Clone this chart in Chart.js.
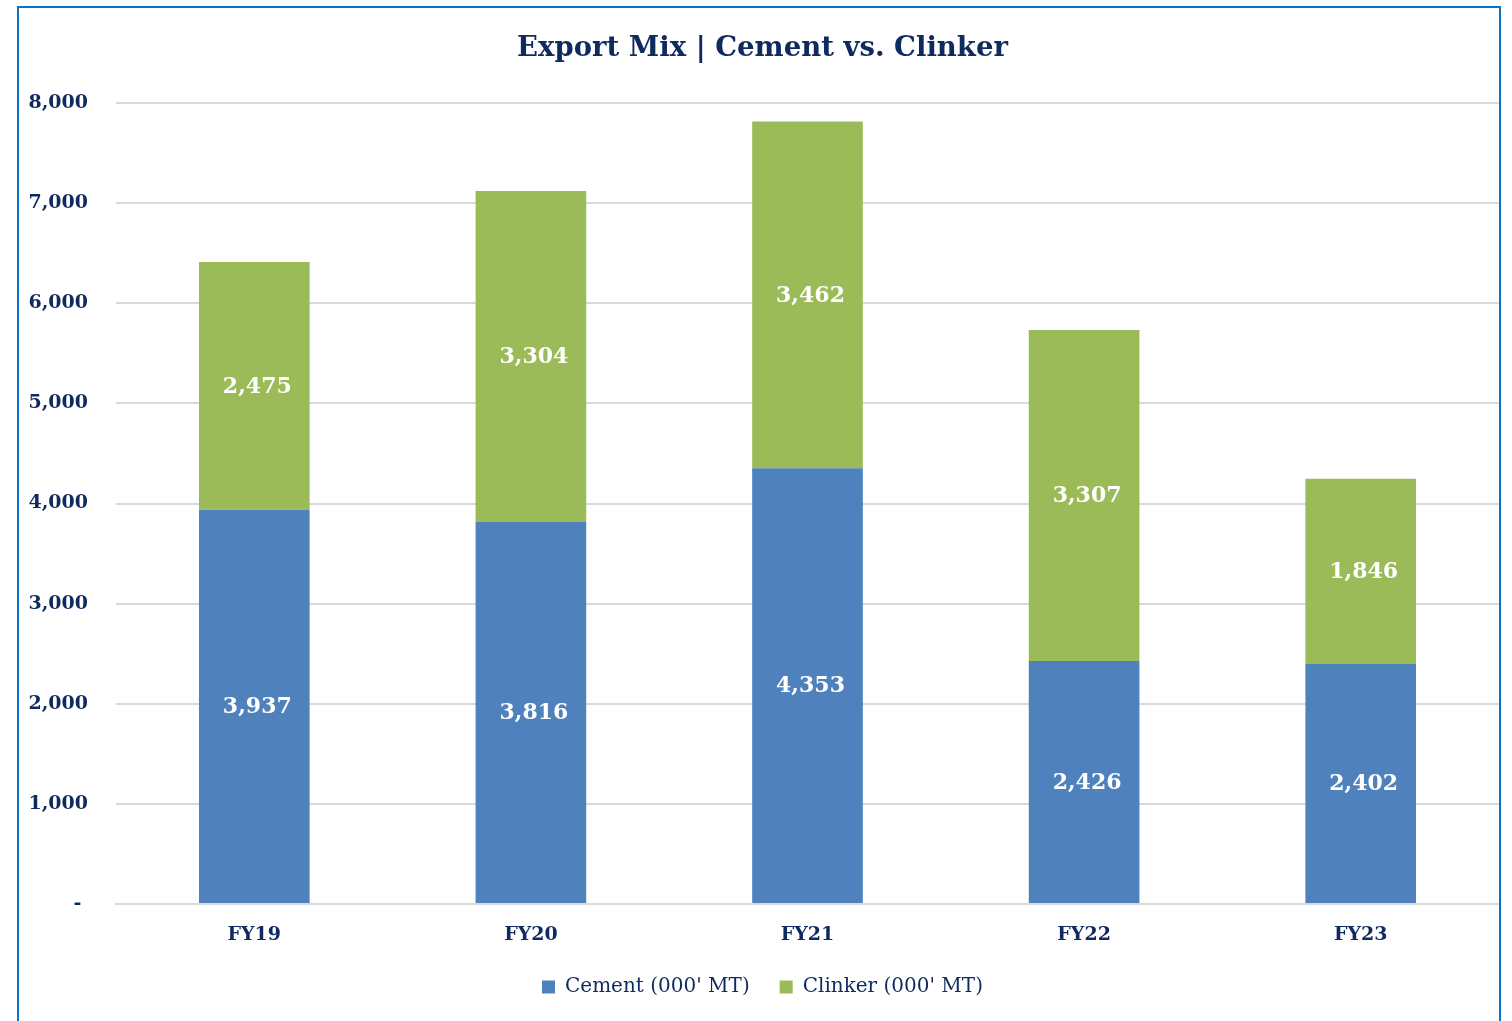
<!DOCTYPE html>
<html>
<head>
<meta charset="utf-8">
<script src="https://cdn.jsdelivr.net/npm/chart.js@4.4.1/dist/chart.umd.min.js"></script>
<style>
    body { margin: 0; background: #fff; }
    #wrap { position: absolute; left: 0; top: 0; width: 1512px; height: 1021px; }
    #frame {
        position: absolute; left: 17px; top: 6px; width: 1480px; height: 1030px;
        border: 2px solid #0b72c8; pointer-events: none;
    }
</style>
</head>
<body>
<div id="wrap"><canvas id="exportChart"></canvas></div>
<div id="frame"></div>
<script>
const years = ["FY19", "FY20", "FY21", "FY22", "FY23"];
const cement = [3937, 3816, 4353, 2426, 2402];
const clinker = [2475, 3304, 3462, 3307, 1846];
const yTicks = [0, 1000, 2000, 3000, 4000, 5000, 6000, 7000, 8000];

const navy = "#0f2a5f";
const serif = "'DejaVu Serif', serif";

// write the value in the middle of every bar segment
const barLabels = {
    id: "barLabels",
    afterDatasetsDraw(chart) {
        const ctx = chart.ctx;
        ctx.save();
        ctx.fillStyle = "#ffffff";
        ctx.font = "bold 22px " + serif;
        ctx.textAlign = "center";
        ctx.textBaseline = "middle";
        chart.data.datasets.forEach((ds, i) => {
            chart.getDatasetMeta(i).data.forEach((bar, j) => {
                const mid = (bar.y + bar.base) / 2;
                ctx.fillText(ds.data[j].toLocaleString("en-US"), bar.x + 3, mid + 1);
            });
        });
        ctx.restore();
    }
};

new Chart(document.getElementById("exportChart"), {
    type: "bar",
    data: {
        labels: years,
        datasets: [{
            label: "Cement (000' MT)",
            data: cement,
            backgroundColor: "#4f81bd",
            barPercentage: 0.4,
            categoryPercentage: 1
        }, {
            label: "Clinker (000' MT)",
            data: clinker,
            backgroundColor: "#9bbb59",
            barPercentage: 0.4,
            categoryPercentage: 1
        }]
    },
    options: {
        responsive: true,
        maintainAspectRatio: false,
        animation: false,
        layout: { padding: { left: 26, right: 13, top: 0, bottom: 14 } },
        plugins: {
            title: {
                display: true,
                text: "Export Mix | Cement vs. Clinker",
                color: navy,
                font: { family: serif, size: 27.5, weight: "bold" },
                padding: { top: 32, bottom: 38 }
            },
            legend: {
                position: "bottom",
                labels: {
                    color: navy,
                    font: { family: serif, size: 20 },
                    boxWidth: 13,
                    boxHeight: 13,
                    padding: 30
                }
            },
            tooltip: { enabled: false }
        },
        scales: {
            x: {
                stacked: true,
                grid: { display: false },
                border: { color: "#d9d9d9", width: 2 },
                ticks: {
                    color: navy,
                    font: { family: serif, size: 19, weight: "bold" },
                    padding: 12
                },
                afterFit(scale) { scale.height = 43; }
            },
            y: {
                stacked: true,
                min: 0,
                max: 8000,
                afterBuildTicks(scale) { scale.ticks = yTicks.map(v => ({ value: v })); },
                afterFit(scale) { scale.width = 90; },
                grid: { color: "#d9d9d9", lineWidth: 2, drawTicks: false },
                border: { display: false },
                ticks: {
                    color: navy,
                    font: { family: serif, size: 19, weight: "bold" },
                    padding: 28,
                    callback: v => v === 0 ? "- " : v.toLocaleString("en-US")
                }
            }
        }
    },
    plugins: [barLabels]
});
</script>
</body>
</html>
